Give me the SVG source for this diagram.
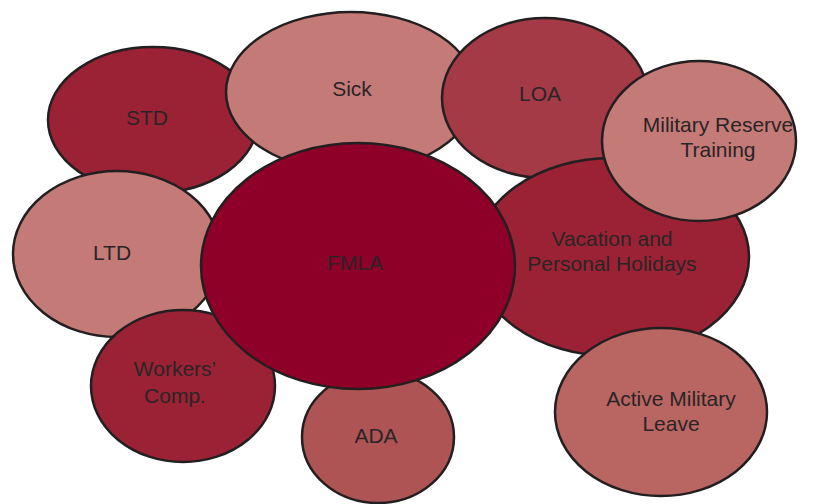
<svg xmlns="http://www.w3.org/2000/svg" width="819" height="504" viewBox="0 0 819 504">
<style>
ellipse{stroke:#231f20;stroke-width:2.5}
text{font-family:"Liberation Sans",Arial,sans-serif;font-size:21px;fill:#2b2426;text-anchor:middle}
</style>
<rect width="819" height="504" fill="#ffffff"/>
<g id="std"><ellipse cx="153" cy="120" rx="105" ry="73" fill="#9a2234"/><text x="147" y="125">STD</text></g>
<g id="sick"><ellipse cx="351" cy="92" rx="125" ry="80" fill="#c47a77"/><text x="352" y="96">Sick</text></g>
<g id="loa"><ellipse cx="545" cy="98" rx="103" ry="80" fill="#a33a45"/><text x="540" y="101">LOA</text></g>
<g id="ltd"><ellipse cx="117" cy="254" rx="104" ry="83" fill="#c47a77"/><text x="112" y="260">LTD</text></g>
<g id="workers"><ellipse cx="183" cy="386" rx="92" ry="76" fill="#9a2234"/><text x="175" y="376">Workers’</text><text x="175" y="403">Comp.</text></g>
<g id="ada"><ellipse cx="378" cy="437" rx="76" ry="66" fill="#ae5454"/><text x="376" y="443">ADA</text></g>
<g id="vacation"><ellipse cx="612" cy="257" rx="137" ry="99" fill="#9a2234"/><text x="612" y="246">Vacation and</text><text x="612" y="271">Personal Holidays</text></g>
<g id="military-reserve"><ellipse cx="699" cy="141" rx="97" ry="80" fill="#c47a77"/><text x="718" y="132">Military Reserve</text><text x="718" y="157">Training</text></g>
<g id="active-military"><ellipse cx="661" cy="412" rx="106" ry="84" fill="#b96562"/><text x="671" y="406">Active Military</text><text x="671" y="431">Leave</text></g>
<g id="fmla"><ellipse cx="358" cy="266" rx="157" ry="123" fill="#8e0028"/><text x="355" y="270">FMLA</text></g>
<g id="connectors"></g>
</svg>
